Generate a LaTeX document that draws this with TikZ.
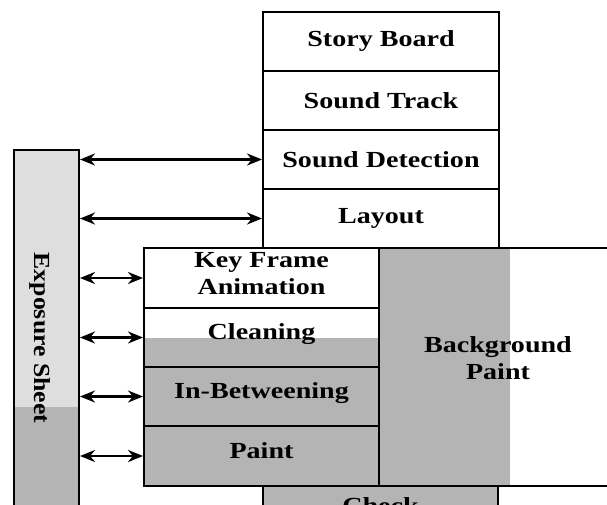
\documentclass[tikz,border=0pt]{standalone}
\usepackage{fontspec}
\usepackage{graphicx}
\setmainfont{Liberation Serif}
\usetikzlibrary{arrows.meta}
\definecolor{shadeD}{HTML}{B4B4B4}
\definecolor{shadeL}{HTML}{DEDEDE}
\newcommand\wtxt[1]{\scalebox{1.22}[1]{#1}}
\newcommand\twolines[2]{\smash{\begin{tabular}{@{}c@{}}\wtxt{#1}\\[2pt]\wtxt{#2}\end{tabular}}}
\begin{document}
\begin{tikzpicture}[x=1pt,y=-1pt,
  box/.style={draw, line width=2pt, inner sep=0pt, anchor=north west,
    font=\fontsize{23}{25}\selectfont\bfseries, align=center},
  link/.style={line width=2.4pt, {Stealth[length=15pt,width=12pt]}-{Stealth[length=15pt,width=12pt]}}]
\useasboundingbox (0,0) rectangle (607,505);
\clip (0,0) rectangle (607,505);
% shading
\fill[shadeL] (13,149) rectangle (78,407);
\fill[shadeD] (13,407) rectangle (78,540);
\fill[shadeD] (143,338) rectangle (378,485);
\fill[shadeD] (378,247) rectangle (510,485);
% top stack
\node[box, minimum width=236pt, minimum height=59pt] (sb) at (262,11) {\wtxt{Story Board}};
\node[box, minimum width=236pt, minimum height=59pt] (st) at (262,70) {\wtxt{Sound Track}};
\node[box, minimum width=236pt, minimum height=59pt] (sd) at (262,129) {\wtxt{Sound Detection}};
\node[box, minimum width=236pt, minimum height=59pt] (ly) at (262,188) {\wtxt{Layout}};
% middle block
\node[box, minimum width=235pt, minimum height=60pt] (kf) at (143,247) {\raisebox{-4pt}[0pt][0pt]{\twolines{Key Frame}{Animation}}};
\node[box, minimum width=235pt, minimum height=59pt] (cl) at (143,307) {\wtxt{Cleaning}\\[-14pt]};
\node[box, minimum width=235pt, minimum height=59pt] (ib) at (143,366) {\wtxt{In-Betweening}\\[-14pt]};
\node[box, minimum width=235pt, minimum height=60pt] (pt) at (143,425) {\wtxt{Paint}\\[-14pt]};
\node[box, minimum width=238pt, minimum height=238pt] (bg) at (378,247) {\twolines{Background}{Paint}};
% bottom
\node[box, fill=shadeD, minimum width=235pt, minimum height=40pt] (ck) at (262,485) {\wtxt{Check}};
% exposure sheet
\node[box, minimum width=65pt, minimum height=381pt] (ex) at (13,149) {\hspace*{-12pt}\rotatebox{-90}{\scalebox{1.12}[1]{Exposure Sheet}}\\[4pt]};
% connectors
\draw[link] (ex.east |- sd.west) -- (sd.west);
\draw[link] (ex.east |- ly.west) -- (ly.west);
\draw[link] (ex.east |- kf.west) -- (kf.west);
\draw[link] (ex.east |- cl.west) -- (cl.west);
\draw[link] (ex.east |- ib.west) -- (ib.west);
\draw[link] (ex.east |- pt.west) -- (pt.west);
\end{tikzpicture}
\end{document}
